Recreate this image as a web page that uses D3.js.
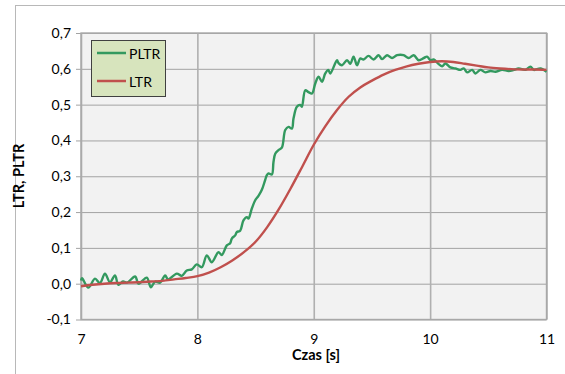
<!DOCTYPE html>
<html>
<head>
<meta charset="utf-8">
<script src="https://cdn.jsdelivr.net/npm/d3@7"></script>
<style>
  body { margin: 0; background: white; }
  text { font-family: Lato, "Open Sans", sans-serif; fill: #000; }
</style>
</head>
<body>
<div id="chart"></div>
<script>
// axis setup
var xTicks = [7, 8, 9, 10, 11];
var yTicks = [-0.1, 0, 0.1, 0.2, 0.3, 0.4, 0.5, 0.6, 0.7];

// LTR (smooth)
var ltrTime = [7.0, 7.1, 7.2, 7.3, 7.4, 7.5, 7.6, 7.7, 7.8, 7.9, 8.0, 8.1, 8.2, 8.3, 8.4, 8.5, 8.6, 8.7, 8.8, 8.9,
               9.0, 9.1, 9.2, 9.3, 9.4, 9.5, 9.6, 9.7, 9.8, 9.9, 10.0, 10.1, 10.2, 10.3, 10.4, 10.5, 10.6, 10.7, 10.8, 10.9, 11.0];
var ltrValue = [-0.007, -0.003, 0.000, 0.002, 0.003, 0.004, 0.006, 0.008, 0.012, 0.016, 0.021, 0.031, 0.046, 0.065, 0.088, 0.117, 0.158, 0.208, 0.265, 0.326,
                0.388, 0.440, 0.485, 0.522, 0.548, 0.567, 0.584, 0.597, 0.607, 0.614, 0.619, 0.621, 0.619, 0.614, 0.609, 0.604, 0.601, 0.599, 0.598, 0.598, 0.597];

// PLTR (noisy)
var pltrTime = [7.000, 7.009, 7.063, 7.120, 7.163, 7.206, 7.249, 7.292, 7.321, 7.361, 7.396, 7.465, 7.495, 7.565, 7.600, 7.637, 7.680, 7.723, 7.748, 7.823,
                7.866, 7.909, 7.952, 7.995, 8.038, 8.081, 8.124, 8.181, 8.210, 8.253, 8.282, 8.296, 8.325, 8.339, 8.368, 8.396, 8.425, 8.439, 8.468, 8.497,
                8.525, 8.554, 8.583, 8.597, 8.611, 8.640, 8.654, 8.669, 8.697, 8.726, 8.755, 8.783, 8.812, 8.826, 8.855, 8.884, 8.898, 8.927, 8.955, 8.985,
                9.013, 9.041, 9.071, 9.099, 9.125, 9.142, 9.200, 9.213, 9.243, 9.286, 9.314, 9.342, 9.372, 9.400, 9.428, 9.471, 9.514, 9.557, 9.587, 9.630,
                9.673, 9.716, 9.772, 9.815, 9.859, 9.902, 9.945, 9.974, 10.002, 10.031, 10.074, 10.103, 10.131, 10.174, 10.217, 10.260, 10.289, 10.318, 10.361, 10.389,
                10.432, 10.475, 10.518, 10.561, 10.619, 10.675, 10.719, 10.761, 10.819, 10.862, 10.891, 10.948, 11.000];
var pltrValue = [0.009, 0.015, -0.011, 0.014, 0.002, 0.028, 0.004, 0.023, -0.003, 0.006, 0.003, 0.020, 0.000, 0.017, -0.010, 0.006, 0.003, 0.023, 0.012, 0.028,
                 0.022, 0.037, 0.040, 0.054, 0.046, 0.079, 0.060, 0.088, 0.080, 0.107, 0.113, 0.126, 0.135, 0.144, 0.148, 0.177, 0.186, 0.182, 0.210, 0.233,
                 0.245, 0.262, 0.290, 0.303, 0.308, 0.305, 0.340, 0.363, 0.373, 0.380, 0.429, 0.438, 0.433, 0.461, 0.494, 0.499, 0.494, 0.540, 0.535, 0.531,
                 0.559, 0.578, 0.564, 0.587, 0.597, 0.587, 0.624, 0.616, 0.610, 0.624, 0.614, 0.634, 0.610, 0.629, 0.626, 0.636, 0.626, 0.638, 0.627, 0.638,
                 0.630, 0.638, 0.638, 0.630, 0.638, 0.624, 0.630, 0.634, 0.624, 0.626, 0.613, 0.607, 0.615, 0.604, 0.601, 0.597, 0.601, 0.590, 0.597, 0.587,
                 0.597, 0.590, 0.594, 0.592, 0.597, 0.594, 0.597, 0.601, 0.597, 0.606, 0.597, 0.601, 0.592];

var width = 565, height = 374;
var plotLeft = 81, plotRight = 546.5, plotTop = 33, plotBottom = 319.5;

var svg = d3.select('#chart').append('svg')
    .attr('width', width)
    .attr('height', height);

// outer chart border (only left/top visible)
svg.append('rect')
    .attr('x', 15.5).attr('y', 5.5)
    .attr('width', 600).attr('height', 400)
    .style('fill', 'white')
    .style('stroke', '#b8b8b8');

var x = d3.scaleLinear().domain([7, 11]).range([plotLeft, plotRight]);
var y = d3.scaleLinear().domain([-0.1, 0.7]).range([plotBottom, plotTop]);

// plot background
svg.append('rect')
    .attr('x', plotLeft).attr('y', plotTop)
    .attr('width', plotRight - plotLeft).attr('height', plotBottom - plotTop)
    .style('fill', '#f2f2f2');

// horizontal grid + y ticks
svg.append('g')
    .attr('transform', 'translate(' + plotLeft + ',0)')
    .call(d3.axisLeft(y).tickValues(yTicks).tickSize(5).tickPadding(9)
        .tickFormat(function(d) { return d3.format('.1f')(d).replace('.', ',').replace('−', '-'); }))
    .call(function(g) {
        g.select('.domain').remove();
        g.selectAll('.tick line').attr('x1', -5).attr('x2', plotRight - plotLeft)
            .style('stroke', '#a3a3a3').style('stroke-width', 1);
        g.selectAll('.tick text').attr('x', -10).style('font-size', '14px').style('font-family', 'Lato, sans-serif');
    });

// vertical grid + x labels
svg.append('g')
    .attr('transform', 'translate(0,' + plotBottom + ')')
    .call(d3.axisBottom(x).tickValues(xTicks).tickSize(0).tickPadding(15)
        .tickFormat(d3.format('d')))
    .call(function(g) {
        g.select('.domain').remove();
        g.selectAll('.tick line').attr('y2', -(plotBottom - plotTop))
            .style('stroke', '#b0b0b0').style('stroke-width', 1.6);
        g.selectAll('.tick text').style('font-size', '14px').style('font-family', 'Lato, sans-serif');
    });

// plot border
svg.append('rect')
    .attr('x', plotLeft).attr('y', plotTop)
    .attr('width', plotRight - plotLeft).attr('height', plotBottom - plotTop)
    .style('fill', 'none')
    .style('stroke', '#a8a8a8')
    .style('stroke-width', 1.4);

var ltrData = ltrTime.map(function(t, i) { return [t, ltrValue[i]]; });
var pltrData = pltrTime.map(function(t, i) { return [t, pltrValue[i]]; });

var line = d3.line()
    .x(function(d) { return x(d[0]); })
    .y(function(d) { return y(d[1]); });

svg.append('path')
    .datum(pltrData)
    .attr('d', line.curve(d3.curveCatmullRom.alpha(0.5)))
    .style('fill', 'none')
    .style('stroke', '#33995f')
    .style('stroke-width', 2.4)
    .style('stroke-linejoin', 'round');

svg.append('path')
    .datum(ltrData)
    .attr('d', line.curve(d3.curveMonotoneX))
    .style('fill', 'none')
    .style('stroke', '#c0504d')
    .style('stroke-width', 2.4)
    .style('stroke-linejoin', 'round');

// axis titles
svg.append('text')
    .text('Czas [s]')
    .attr('x', 316).attr('y', 360)
    .style('font-size', '14.5px')
    .style('font-weight', 'bold')
    .style('text-anchor', 'middle');

svg.append('text')
    .text('LTR, PLTR')
    .attr('transform', 'translate(24,176) rotate(-90)')
    .style('font-size', '14.5px')
    .style('font-weight', 'bold')
    .style('text-anchor', 'middle');

// legend
var legend = svg.append('g');
legend.append('rect')
    .attr('x', 91.5).attr('y', 40.5)
    .attr('width', 74).attr('height', 56)
    .style('fill', '#d7e4bd')
    .style('stroke', '#404040');

var items = [['PLTR', '#33995f', 53], ['LTR', '#c0504d', 81]];
items.forEach(function(it) {
    legend.append('line')
        .attr('x1', 97).attr('x2', 126)
        .attr('y1', it[2]).attr('y2', it[2])
        .style('stroke', it[1])
        .style('stroke-width', 2.5);
    legend.append('text')
        .text(it[0])
        .attr('x', 129).attr('y', it[2])
        .attr('dominant-baseline', 'central')
        .style('font-size', '14px');
});
</script>
</body>
</html>
